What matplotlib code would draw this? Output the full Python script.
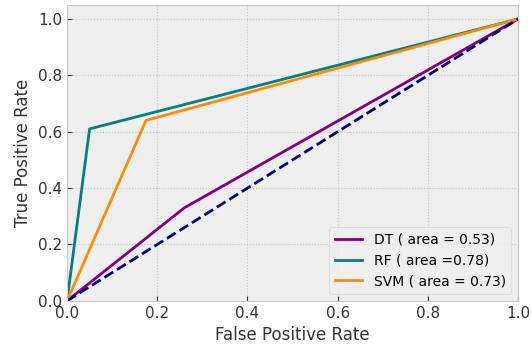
import matplotlib
matplotlib.use("Agg")
import matplotlib.pyplot as plt

# ROC curve points
dt_fpr = [0.0, 0.26, 1.0]
dt_tpr = [0.0, 0.33, 1.0]
rf_fpr = [0.0, 0.05, 1.0]
rf_tpr = [0.0, 0.61, 1.0]
svm_fpr = [0.0, 0.175, 1.0]
svm_tpr = [0.0, 0.64, 1.0]
labels = ["DT ( area = 0.53)", "RF ( area =0.78)", "SVM ( area = 0.73)"]

plt.style.use("bmh")
fig = plt.figure(figsize=(5.32, 3.45), dpi=100)
ax = fig.add_axes([0.126, 0.128, 0.848, 0.858])
ax.set_facecolor("#eeeeee")

ax.plot(dt_fpr, dt_tpr, color="purple", lw=2, label=labels[0])
ax.plot(rf_fpr, rf_tpr, color="teal", lw=2, label=labels[1])
ax.plot(svm_fpr, svm_tpr, color="darkorange", lw=2, label=labels[2])
ax.plot([0, 1], [0, 1], color="navy", lw=2, linestyle="--")

ax.set_xlim(0.0, 1.0)
ax.set_ylim(0.0, 1.05)
ax.grid(True, linestyle=":", color="#c4c4c4", linewidth=0.8)
for s in ax.spines.values():
    s.set_color("#c8c8c8")
ax.tick_params(labelsize=11, colors="#333333", direction="in")
ax.set_xlabel("False Positive Rate", fontsize=12, color="#333333")
ax.set_ylabel("True Positive Rate", fontsize=12, color="#333333")
ax.legend(loc="lower right", fontsize=10, facecolor="#eeeeee", edgecolor="#d0d0d0")

fig.savefig("out.png", dpi=100)
